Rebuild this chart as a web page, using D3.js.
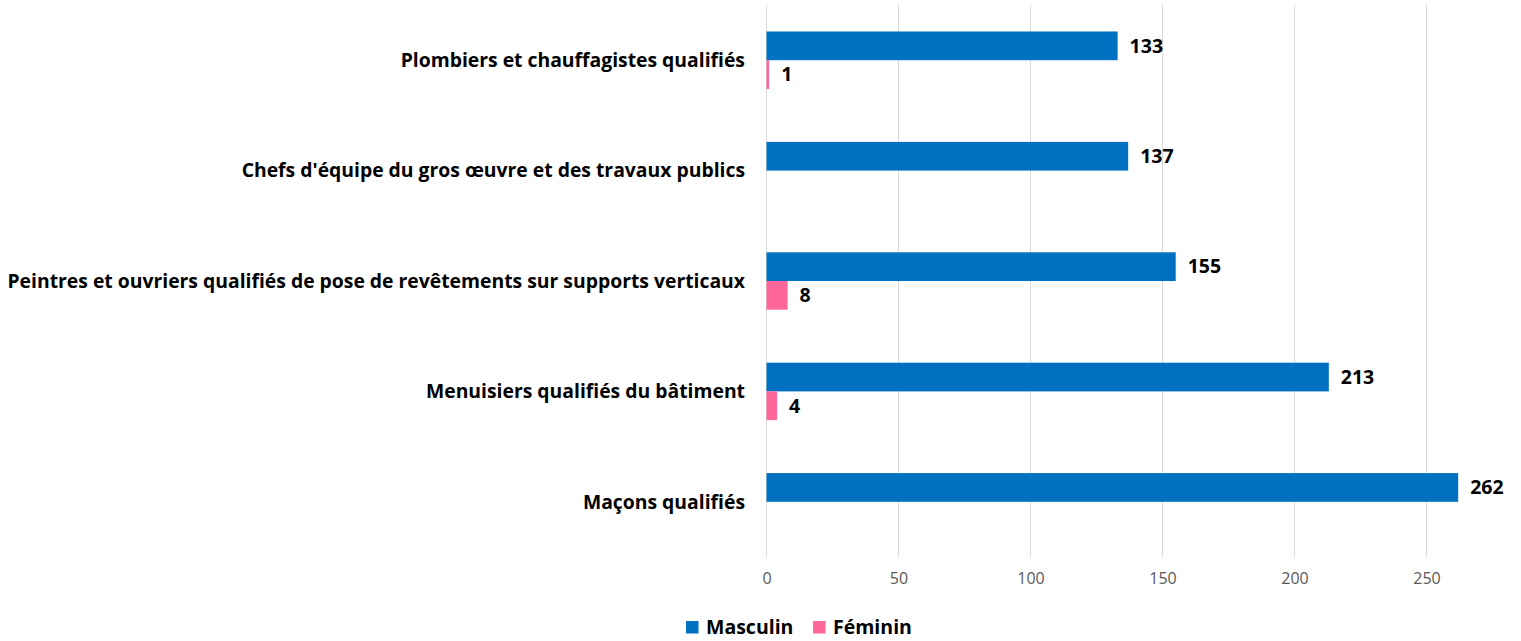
<!DOCTYPE html>
<html lang="fr">
<head>
<meta charset="UTF-8">
<title>Effectifs par métier et sexe</title>
<script src="https://d3js.org/d3.v7.min.js"></script>
<style>
    body { margin: 0; background: #fff; font-family: "Open Sans", "Liberation Sans", sans-serif; }
    .cat-label { font-weight: bold; font-size: 19.35px; fill: #000; }
    .val-label { font-weight: bold; font-size: 19.5px; fill: #000; }
    .tick text { font-size: 16px; fill: #595959; font-family: "Open Sans", sans-serif; }
    .legend text { font-weight: bold; font-size: 19.5px; fill: #000; }
</style>
</head>
<body>
<svg id="chart" width="1521" height="641"></svg>
<script>
    const categories = [
        "Plombiers et chauffagistes qualifiés",
        "Chefs d'équipe du gros œuvre et des travaux publics",
        "Peintres et ouvriers qualifiés de pose de revêtements sur supports verticaux",
        "Menuisiers qualifiés du bâtiment",
        "Maçons qualifiés"
    ];
    const seriesNames = ["Masculin", "Féminin"];
    const masculin = [133, 137, 155, 213, 262];
    const feminin = [1, null, 8, 4, null];
    const xTicks = [0, 50, 100, 150, 200, 250];
    const colors = ["#0070C0", "#FF6699"];

    const svg = d3.select("#chart");

    // plot area
    const plotLeft = 766.5, plotRight = 1426.5, plotTop = 5, plotBottom = 557;

    const x = d3.scaleLinear().domain([0, 250]).range([plotLeft, plotRight]);

    const y = d3.scaleBand()
        .domain(categories)
        .range([plotTop, plotBottom])
        .paddingInner(0.48)
        .paddingOuter(0.24);

    const ySub = d3.scaleBand()
        .domain(seriesNames)
        .range([0, y.bandwidth()]);

    // gridlines
    svg.append("g")
        .selectAll("line")
        .data(xTicks)
        .enter()
        .append("line")
        .attr("x1", d => x(d))
        .attr("x2", d => x(d))
        .attr("y1", plotTop)
        .attr("y2", plotBottom)
        .attr("stroke", "#d9d9d9")
        .attr("stroke-width", 1);

    // x axis labels
    const axis = svg.append("g")
        .attr("transform", `translate(0,${plotBottom})`)
        .call(d3.axisBottom(x).tickValues(xTicks).tickSize(0).tickPadding(16));
    axis.select(".domain").remove();
    axis.selectAll(".tick text").attr("font-size", null);

    // category labels
    svg.append("g")
        .selectAll("text")
        .data(categories)
        .enter()
        .append("text")
        .attr("class", "cat-label")
        .attr("x", 745)
        .attr("y", d => y(d) + y.bandwidth() / 2)
        .attr("dy", "0.35em")
        .attr("text-anchor", "end")
        .text(d => d);

    // bars
    const rows = categories.map((c, i) => ({ cat: c, values: [masculin[i], feminin[i]] }));

    const groups = svg.append("g")
        .selectAll("g")
        .data(rows)
        .enter()
        .append("g")
        .attr("transform", d => `translate(0,${y(d.cat)})`);

    const cells = groups.selectAll("g")
        .data(d => d.values.map((v, j) => ({ name: seriesNames[j], v: v, j: j })).filter(e => e.v !== null))
        .enter()
        .append("g");

    cells.append("rect")
        .attr("x", x(0))
        .attr("y", d => ySub(d.name))
        .attr("width", d => x(d.v) - x(0))
        .attr("height", ySub.bandwidth())
        .attr("fill", d => colors[d.j]);

    cells.append("text")
        .attr("class", "val-label")
        .attr("x", d => x(d.v) + 12)
        .attr("y", d => ySub(d.name) + ySub.bandwidth() / 2)
        .attr("dy", "0.35em")
        .text(d => d.v);

    // legend
    const legend = svg.append("g").attr("class", "legend");
    const legendPos = [686, 813];
    seriesNames.forEach((name, i) => {
        legend.append("rect")
            .attr("x", legendPos[i])
            .attr("y", 621)
            .attr("width", 12.5)
            .attr("height", 12.5)
            .attr("fill", colors[i]);
        legend.append("text")
            .attr("x", legendPos[i] + 20)
            .attr("y", 627.5)
            .attr("dy", "0.35em")
            .text(name);
    });
</script>
</body>
</html>
